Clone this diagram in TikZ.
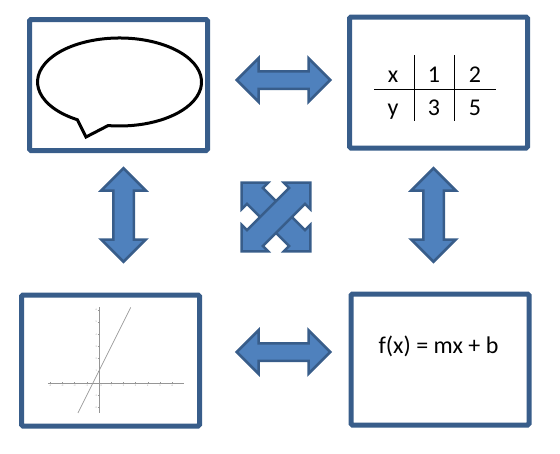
\documentclass[tikz,border=0pt]{standalone}
\usepackage{fontspec}
\setmainfont{Carlito}
\usepackage{xcolor}
\usepackage{tikz}
\usetikzlibrary{shapes.arrows, calc}
\definecolor{frame}{RGB}{56,93,138}
\definecolor{arrowfill}{RGB}{79,129,189}
\definecolor{plotgray}{RGB}{150,150,150}
\tikzset{
  panel/.style={draw=frame, line width=5pt, rounded corners=1.5pt, fill=white,
                minimum width=178pt, minimum height=131pt, inner sep=0pt},
  fatarrow/.style={double arrow, draw=frame, fill=arrowfill, line width=2.5pt,
                   inner xsep=0pt, inner ysep=7.5pt, double arrow head extend=13pt,
                   minimum height=93.5pt},
  uparrow/.style={fatarrow, rotate=90, inner ysep=9pt, double arrow head extend=12pt},
  crossarrow/.style={fatarrow, inner ysep=10pt, double arrow head extend=7.5pt,
                     minimum height=97pt},
  bubble/.style={draw=black, line width=3pt, fill=white, line join=miter},
  cell/.style={font=\fontsize{24}{28}\selectfont, inner sep=0pt, anchor=base},
  tablerule/.style={draw=black, line width=0.9pt},
  axis/.style={draw=plotgray, line width=0.7pt},
  ticklbl/.style={font=\fontsize{2.5}{3}\selectfont, text=plotgray, inner sep=0.5pt}
}

\begin{document}
\begin{tikzpicture}[x=1pt, y=-1pt]
  \useasboundingbox (0,0) rectangle (560,453);
  % four panels
  \node[panel] (talk)  at (118.5,85)    {};
  \node[panel] (table) at (438.5,82.5)  {};
  \node[panel] (graph) at (110.5,360.5) {};
  \node[panel] (rule)  at (440,359.5)   {};

  % block arrows between the panels
  \node[fatarrow] (talk-table) at (283.5,80)  {};
  \node[fatarrow] (graph-rule) at (283.5,352) {};
  \node[uparrow] (talk-graph)  at (123.5,215) {};
  \node[uparrow] (table-rule)  at (433.5,215) {};
  \node[crossarrow, rotate=-45] (talk-rule)   at (276,217) {};
  \node[crossarrow, rotate=45]  (graph-table) at (276,217) {};

  % speech bubble
  \draw[bubble] (77.3,119.7) arc[start angle=121, end angle=458, x radius=82, y radius=44]
    -- (86,137) -- cycle;

  % table of values
  \foreach \t/\x/\y in {x/393/82, 1/434/82, 2/475/82, y/393/115, 3/434/115, 5/475/115}
    \node[cell] (cell-\t) at (\x,\y) {\t};
  \draw[tablerule] (374,89) -- (496,89);
  \draw[tablerule] (414,55) -- (414,121);
  \draw[tablerule] (454,55) -- (454,121);

  % rule
  \node[cell] (fx) at (438.5,353) {f(x) = mx + b};

  % graph of the line
  \begin{scope}[shift={(99,383)}, x=12.2pt, y=12.2pt]
    \draw[axis] (-4.2,0) -- (7,0);
    \draw[axis] (0,-2.45) -- (0,6.2);
    \foreach \i in {-4,-3,-2,-1,1,2,3,4,5,6}
      \draw[axis, line width=0.4pt] (\i,-0.1) -- (\i,0.1)
        node[ticklbl, below=1.5pt] (xl\i) at (\i,0) {\i};
    \foreach \j in {-2,-1,1,2,3,4,5,6}
      \draw[axis, line width=0.4pt] (-0.1,\j) -- (0.1,\j)
        node[ticklbl, left=1.5pt] (yl\j) at (0,\j) {\j};
    \node[ticklbl, below right=1pt] (o) at (0,0) {0};
    \draw[axis] (-1.725,-2.45) -- (2.6,6.2);
  \end{scope}
\end{tikzpicture}
\end{document}
